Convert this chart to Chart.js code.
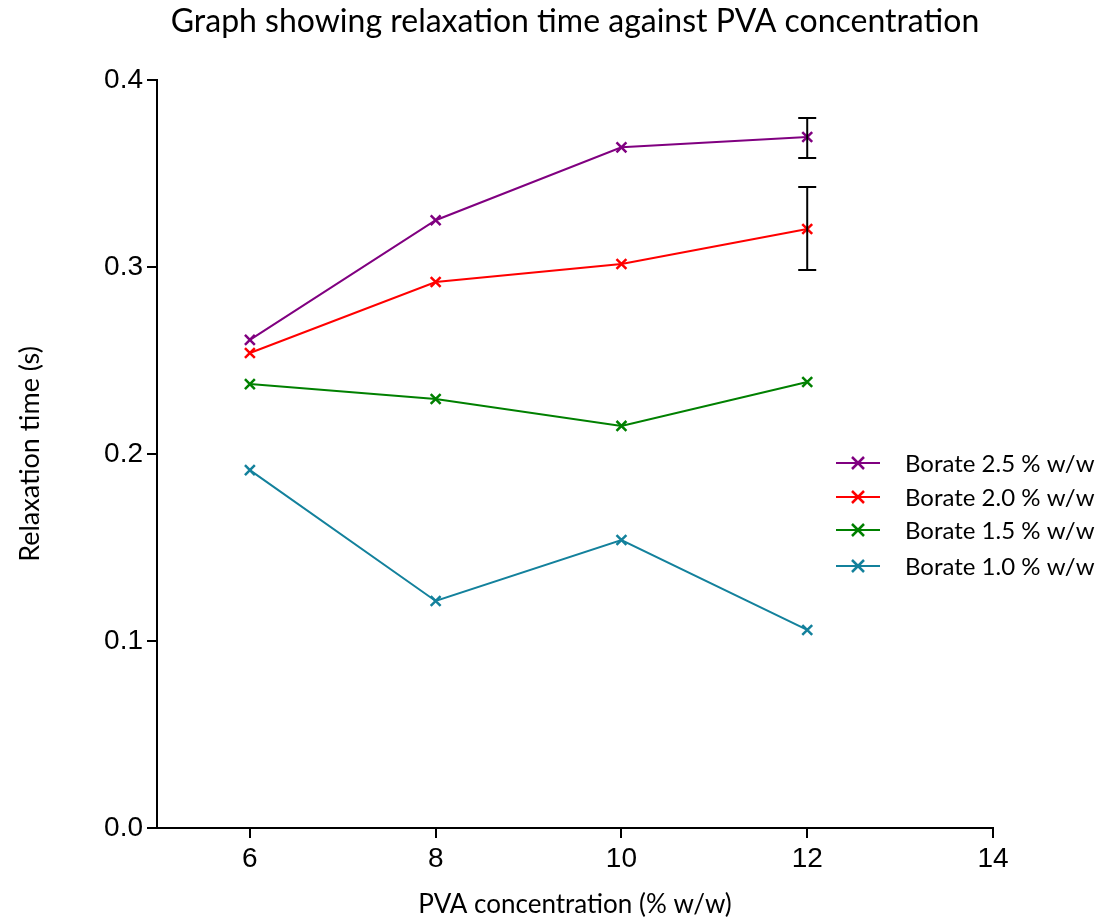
<!DOCTYPE html>
<html>
<head>
<meta charset="utf-8">
<script src="https://cdn.jsdelivr.net/npm/chart.js@4"></script>
<style>
  html, body { margin: 0; padding: 0; background: #fff; }
  #wrap { width: 1110px; height: 920px; position: relative; }
</style>
</head>
<body>
<div id="wrap"><canvas id="chart" width="1110" height="920"></canvas></div>
<script>
// PVA concentration (% w/w)
const pva = [6, 8, 10, 12];

// relaxation time (s) per borate concentration
const borate25 = [0.261, 0.325, 0.364, 0.3695];
const borate20 = [0.254, 0.292, 0.3016, 0.3203];
const borate15 = [0.2374, 0.2294, 0.215, 0.2385];
const borate10 = [0.1914, 0.1214, 0.154, 0.1059];

// error bars at PVA 12 only (low, high)
const errX = [12, 12];
const errLow = [0.3583, 0.2984];
const errHigh = [0.3797, 0.3428];

const seriesNames = ['Borate 2.5 % w/w', 'Borate 2.0 % w/w', 'Borate 1.5 % w/w', 'Borate 1.0 % w/w'];
const seriesColors = ['#800080', '#ff0000', '#008000', '#13819c'];
const yTicks = [0, 0.1, 0.2, 0.3, 0.4];
const xTicks = [6, 8, 10, 12, 14];

const textFont = 'Lato, "Noto Sans", sans-serif';

function toPoints(ys) {
    return pva.map((x, i) => ({ x: x, y: ys[i] }));
}

const allSeries = [borate25, borate20, borate15, borate10];
const datasets = allSeries.map((ys, i) => ({
    label: seriesNames[i],
    data: toPoints(ys),
    showLine: true,
    borderColor: seriesColors[i],
    backgroundColor: seriesColors[i],
    borderWidth: 2,
    pointStyle: 'crossRot',
    pointRadius: 7,
    pointBorderWidth: 2.5,
    tension: 0
}));

// error bars drawn through the chart scales
const errorBars = {
    id: 'errorBars',
    afterDatasetsDraw(chart) {
        const { ctx, scales: { x, y } } = chart;
        ctx.save();
        ctx.strokeStyle = '#000';
        ctx.lineWidth = 2;
        errX.forEach((xv, i) => {
            const px = x.getPixelForValue(xv);
            const pLo = y.getPixelForValue(errLow[i]);
            const pHi = y.getPixelForValue(errHigh[i]);
            ctx.beginPath();
            ctx.moveTo(px, pLo); ctx.lineTo(px, pHi);
            ctx.moveTo(px - 9, pLo); ctx.lineTo(px + 9, pLo);
            ctx.moveTo(px - 9, pHi); ctx.lineTo(px + 9, pHi);
            ctx.stroke();
        });
        ctx.restore();
    }
};

// title and line+marker legend
const decorations = {
    id: 'decorations',
    afterDraw(chart) {
        const { ctx } = chart;
        ctx.save();
        ctx.fillStyle = '#000';
        ctx.font = '32px ' + textFont;
        ctx.textAlign = 'center';
        ctx.textBaseline = 'middle';
        ctx.fillText('Graph showing relaxation time against PVA concentration', 575, 22);

        const legendY = [463, 497, 530, 566];
        ctx.font = '24px ' + textFont;
        ctx.textAlign = 'left';
        seriesNames.forEach((name, i) => {
            const ly = legendY[i];
            ctx.strokeStyle = seriesColors[i];
            ctx.lineWidth = 2;
            ctx.beginPath();
            ctx.moveTo(836, ly); ctx.lineTo(880, ly);
            ctx.stroke();
            ctx.lineWidth = 2.5;
            ctx.beginPath();
            ctx.moveTo(852, ly - 6); ctx.lineTo(864, ly + 6);
            ctx.moveTo(852, ly + 6); ctx.lineTo(864, ly - 6);
            ctx.stroke();
            ctx.fillStyle = '#000';
            ctx.fillText(name, 905, ly + 1);
        });
        ctx.restore();
    }
};

new Chart(document.getElementById('chart'), {
    type: 'scatter',
    data: { datasets: datasets },
    plugins: [errorBars, decorations],
    options: {
        responsive: false,
        animation: false,
        layout: { padding: { left: 0, right: 117, top: 80, bottom: 0 } },
        plugins: {
            legend: { display: false },
            title: { display: false },
            tooltip: { enabled: false }
        },
        scales: {
            x: {
                type: 'linear',
                min: 5,
                max: 14,
                afterBuildTicks(scale) { scale.ticks = xTicks.map(v => ({ value: v })); },
                afterFit(scale) { scale.height = 92; },
                border: { color: '#000', width: 2 },
                grid: { drawOnChartArea: false, drawTicks: true, tickLength: 10, color: '#000', lineWidth: 2 },
                ticks: { color: '#000', font: { family: '"Liberation Sans", Arial, sans-serif', size: 28 }, padding: 4 },
                title: { display: true, text: 'PVA concentration (% w/w)', color: '#000', font: { family: textFont, size: 26 }, padding: { top: 4, bottom: 0 } }
            },
            y: {
                type: 'linear',
                min: 0,
                max: 0.4,
                afterBuildTicks(scale) { scale.ticks = yTicks.map(v => ({ value: v })); },
                afterFit(scale) { scale.width = 157; },
                border: { color: '#000', width: 2 },
                grid: { drawOnChartArea: false, drawTicks: true, tickLength: 10, color: '#000', lineWidth: 2 },
                ticks: { color: '#000', font: { family: '"Liberation Sans", Arial, sans-serif', size: 28 }, padding: 4, callback: v => v.toFixed(1) },
                title: { display: true, text: 'Relaxation time (s)', color: '#000', font: { family: textFont, size: 27 }, padding: { top: 14, bottom: 0 } }
            }
        }
    }
});
</script>
</body>
</html>
